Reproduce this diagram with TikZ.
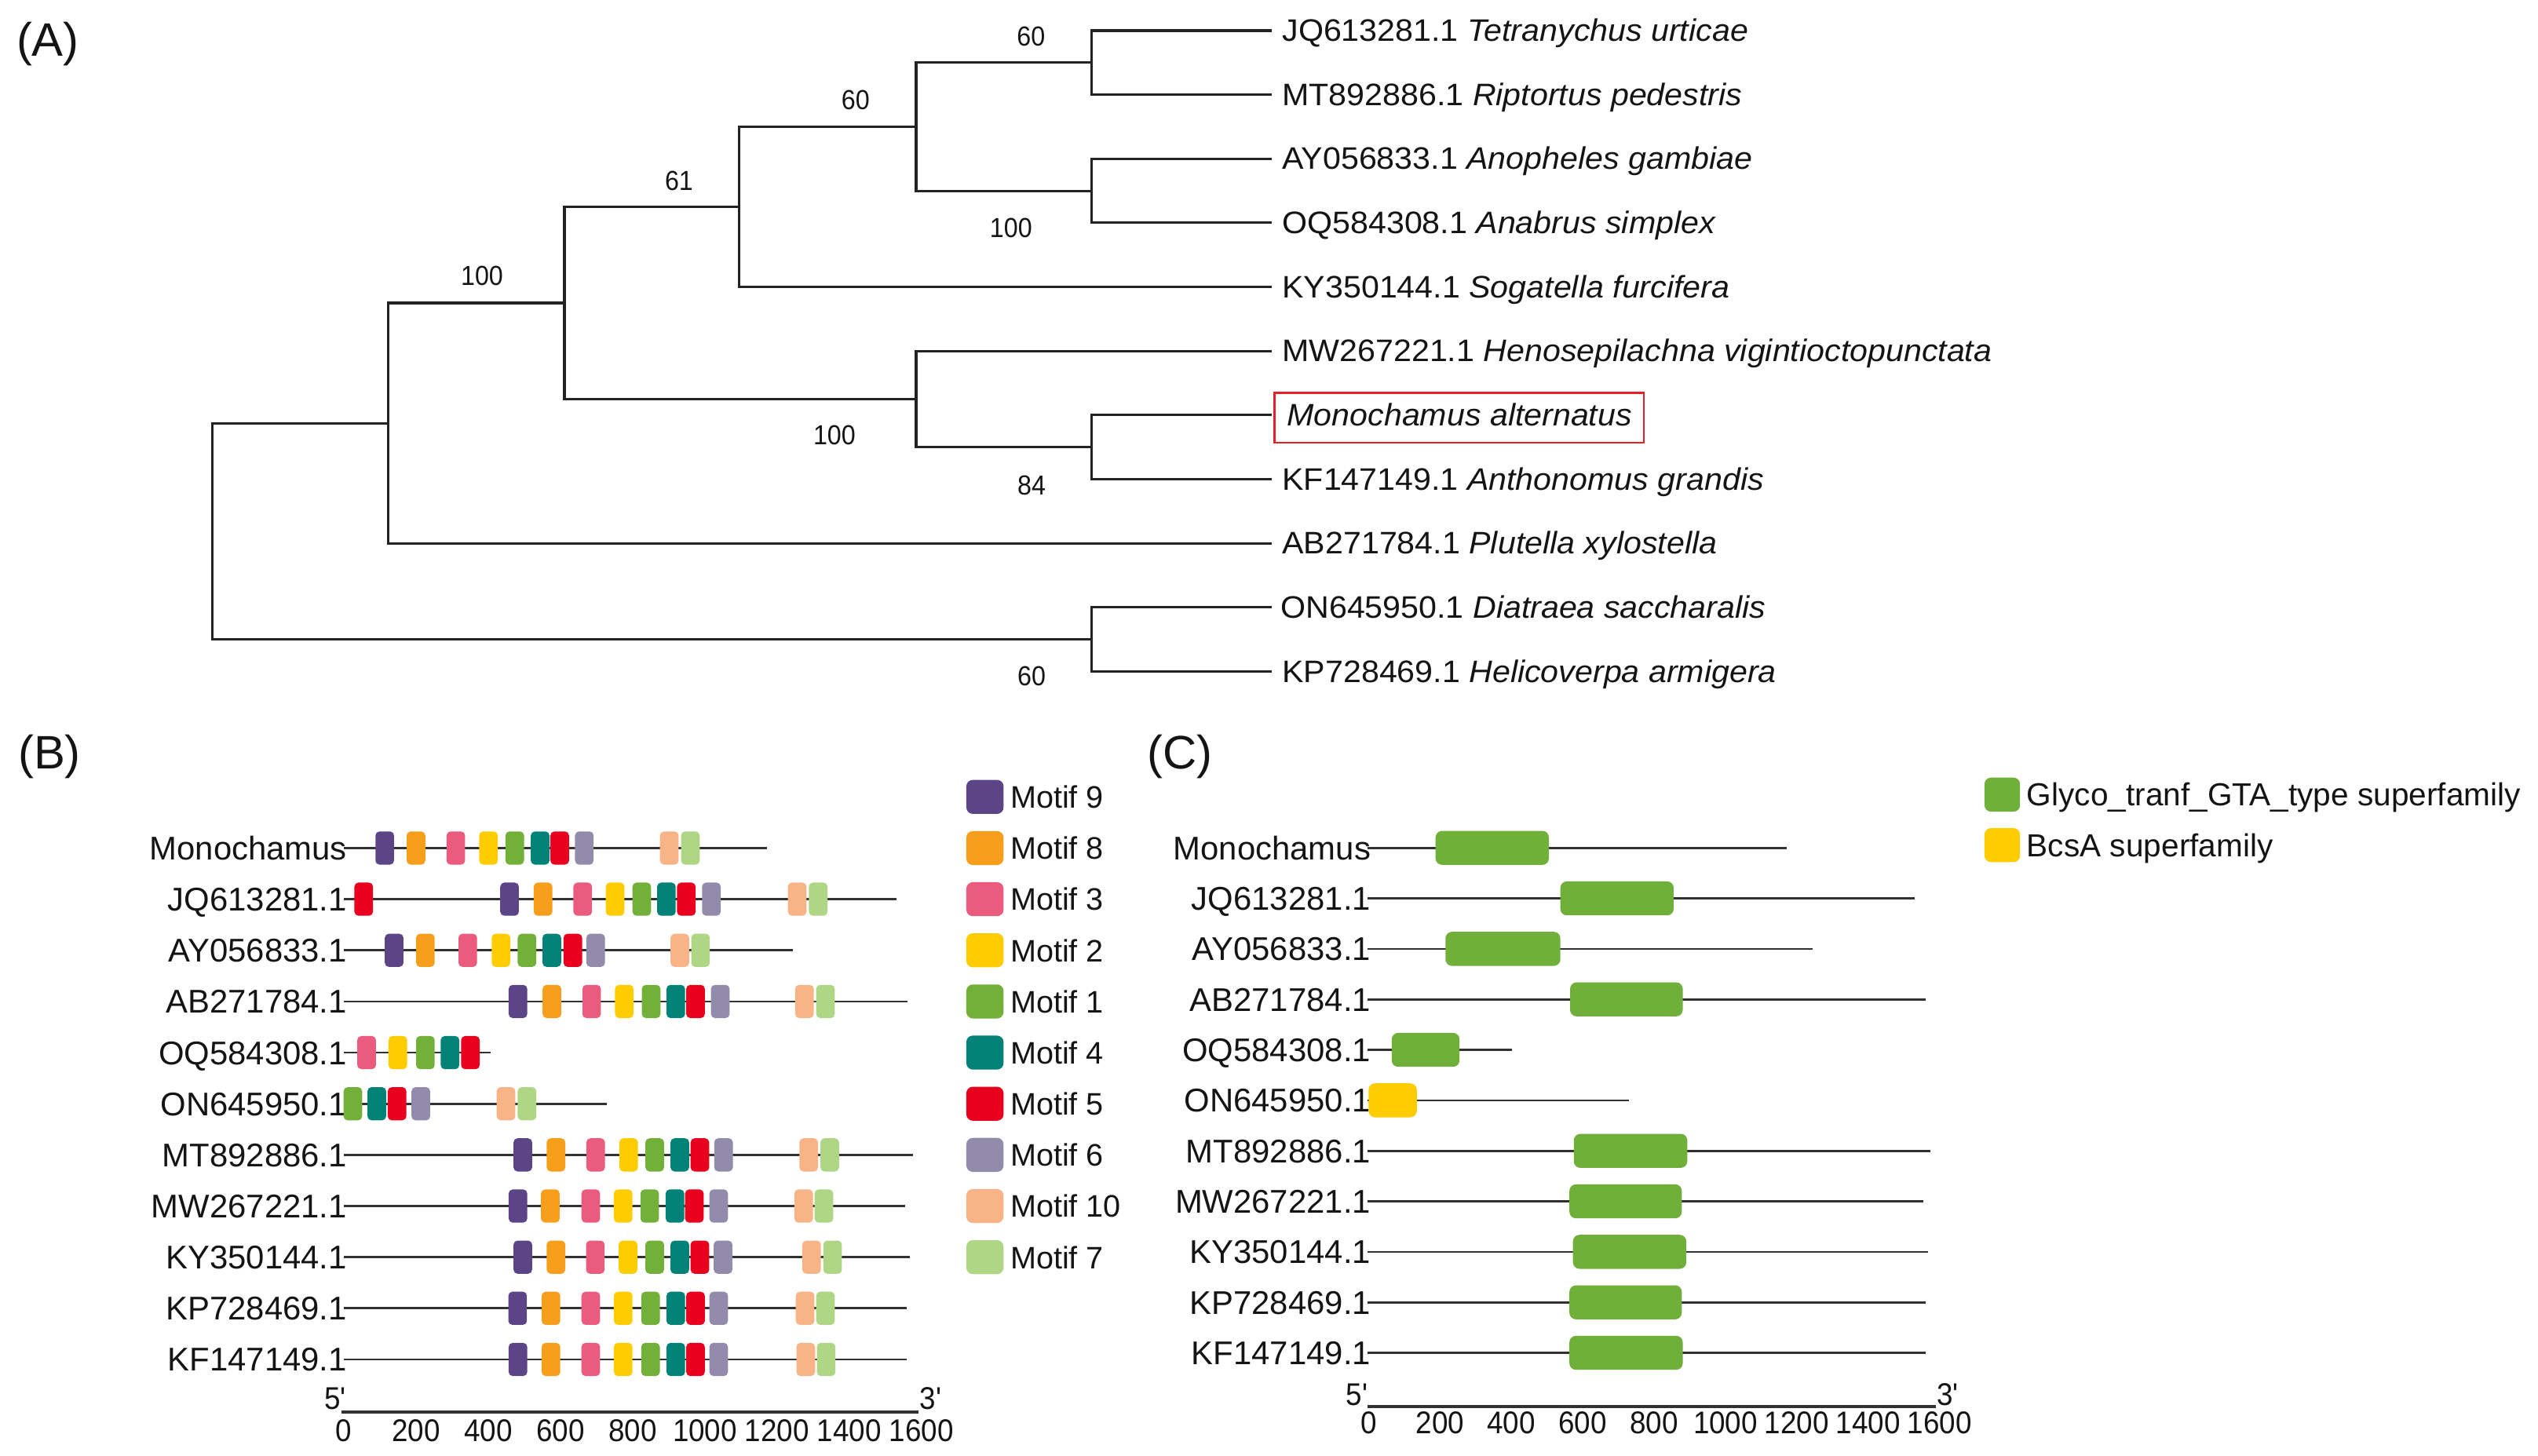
\documentclass[tikz,border=0pt]{standalone}
\usepackage{fontspec}
\setmainfont{Liberation Sans}
\newfontfamily\condfont[FakeStretch=0.92]{Liberation Sans}
\newfontfamily\widefont[FakeStretch=1.04]{Liberation Sans}
\usetikzlibrary{calc}
\definecolor{treecol}{RGB}{35,35,35}
\definecolor{seqcol}{RGB}{50,50,50}
\definecolor{txtcol}{RGB}{20,20,20}
\definecolor{boxred}{RGB}{232,30,40}
\definecolor{m9}{RGB}{91,69,135}
\definecolor{m8}{RGB}{247,158,28}
\definecolor{m3}{RGB}{235,91,126}
\definecolor{m2}{RGB}{255,204,0}
\definecolor{m1}{RGB}{114,176,58}
\definecolor{m4}{RGB}{0,130,120}
\definecolor{m5}{RGB}{232,0,30}
\definecolor{m6}{RGB}{146,139,172}
\definecolor{m10}{RGB}{248,180,134}
\definecolor{m7}{RGB}{174,214,132}
\definecolor{glyco}{RGB}{112,176,58}
\definecolor{bcsa}{RGB}{255,204,0}
\newcommand\motifbox[3]{\fill[#3, rounded corners=2.5pt] ({#1-5.75},{#2-10.25}) rectangle ({#1+5.75},{#2+10.25});}
\newcommand\motifrow[2]{\foreach \c/\x in {#2}{\motifbox{\x}{#1}{m\c}}}
\tikzset{
  treeline/.style={draw=treecol, line width=1.5pt, line cap=rect},
  leaflab/.style={anchor=base west, inner sep=0pt, text=txtcol, font=\widefont\fontsize{19.2}{21}\selectfont},
  bslab/.style={inner sep=0pt, text=txtcol, text height=12.2pt, text depth=0pt, font=\condfont\fontsize{17}{19}\selectfont},
  seqlab/.style={anchor=east, inner sep=0pt, text=txtcol, text height=14.5pt, text depth=0pt, font=\fontsize{20.3}{22}\selectfont},
  seqline/.style={draw=seqcol, line width=1.3pt},
  axisline/.style={draw=seqcol, line width=2pt},
  ticklab/.style={inner sep=0pt, text=txtcol, text height=13.9pt, text depth=0pt, font=\condfont\fontsize{19.4}{21}\selectfont},
  leglab/.style={anchor=west, inner sep=0pt, text=txtcol, text height=13.9pt, text depth=0pt, font=\fontsize{19.2}{21}\selectfont},
  panellab/.style={anchor=base west, inner sep=0pt, text=txtcol, font=\fontsize{29}{31}\selectfont},
}
\begin{document}
\begin{tikzpicture}[x=1pt,y=-1pt]
\useasboundingbox (0,0) rectangle (1568,899.6);
\fill[white] (0,0) rectangle (1568,899.6);

% ---------------- Panel A ----------------
\node[panellab] (pA) at (10,34.8) {(A)};
\foreach \i/\y in {0/18.9,1/58.5,2/98.1,3/137.7,4/177.3,5/216.9,6/256.5,7/296.1,8/335.7,9/375.3,10/414.9}
  \coordinate (L\i) at (785,\y);
\coordinate (na) at (674.6,38.7);
\coordinate (nb) at (674.6,117.9);
\coordinate (nc) at (566,78.3);
\coordinate (nd) at (456.8,127.8);
\coordinate (ne) at (674.6,276.3);
\coordinate (nf) at (566,246.6);
\coordinate (ng) at (348.7,187.2);
\coordinate (nh) at (240,261.45);
\coordinate (ni) at (674.6,395.1);
\coordinate (nr) at (131,328.3);
\foreach \n/\a/\b in {na/L0/L1, nb/L2/L3, nc/na/nb, nd/nc/L4, ne/L6/L7, nf/L5/ne, ng/nd/nf, nh/ng/L8, ni/L9/L10, nr/nh/ni}
  \draw[treeline] (\a) -- (\a -| \n) -- (\b -| \n) -- (\b);

\node[leaflab] (T0) at (792,25.5) {JQ613281.1 \textit{Tetranychus urticae}};
\node[leaflab] (T1) at (792,65.1) {MT892886.1 \textit{Riptortus pedestris}};
\node[leaflab] (T2) at (792,104.7) {AY056833.1 \textit{Anopheles gambiae}};
\node[leaflab] (T3) at (792,144.3) {OQ584308.1 \textit{Anabrus simplex}};
\node[leaflab] (T4) at (792,183.9) {KY350144.1 \textit{Sogatella furcifera}};
\node[leaflab] (T5) at (792,223.5) {MW267221.1 \textit{Henosepilachna vigintioctopunctata}};
\node[leaflab] (T6) at (795,263.1) {\textit{Monochamus alternatus}};
\node[leaflab] (T7) at (792,302.7) {KF147149.1 \textit{Anthonomus grandis}};
\node[leaflab] (T8) at (792,342.3) {AB271784.1 \textit{Plutella xylostella}};
\node[leaflab] (T9) at (791,381.9) {ON645950.1 \textit{Diatraea saccharalis}};
\node[leaflab] (T10) at (792,421.5) {KP728469.1 \textit{Helicoverpa armigera}};
\draw[boxred, line width=1.3pt] ([shift={(-7.5,-20.4)}]T6.base west) rectangle ([shift={(7,10.5)}]T6.base east);

\node[bslab] (s1) at (637,22.3) {60};
\node[bslab] (s2) at (528.6,61.6) {60};
\node[bslab] (s3) at (419.5,111.5) {61};
\node[bslab] (s4) at (297.8,170) {100};
\node[bslab] (s5) at (624.6,140.8) {100};
\node[bslab] (s6) at (515.5,268.7) {100};
\node[bslab] (s7) at (637.3,299.7) {84};
\node[bslab] (s8) at (637.3,417.6) {60};

% ---------------- Panel B ----------------
\node[panellab] (pB) at (11,475) {(B)};
\foreach \i/\y/\nm/\xe in {0/524/Monochamus/474, 1/555.6/JQ613281.1/554, 2/587.2/AY056833.1/490, 3/618.8/AB271784.1/560.5, 4/650.4/OQ584308.1/303, 5/682/ON645950.1/375, 6/713.6/MT892886.1/564, 7/745.2/MW267221.1/559, 8/776.8/KY350144.1/562, 9/808.4/KP728469.1/560, 10/840/KF147149.1/560}{
  \node[seqlab] (B\i) at (214.5,\y) {\nm};
  \coordinate (BE\i) at (\xe,\y);
  \draw[seqline] ([xshift=-2pt]B\i.east) -- (BE\i);
}
\motifrow{524}{9/237.7,8/257,3/281.6,2/301.8,1/318,4/333.7,5/345.8,6/361,10/413.5,7/426.5}
\motifrow{555.6}{5/224.7,9/314.8,8/335.5,3/360,2/380,1/396.5,4/411.7,5/424,6/439.5,10/492.5,7/505.5}
\motifrow{587.2}{9/243.5,8/262.8,3/289,2/309.5,1/325.6,4/340.9,5/353.9,6/368,10/420,7/432.8}
\motifrow{618.8}{9/320,8/341,3/365.5,2/385.7,1/402.3,4/417.5,5/429.7,6/445,10/497,7/510}
\motifrow{650.4}{3/226.5,2/245.8,1/262.8,4/278,5/290.6}
\motifrow{682}{1/218,4/232.8,5/245.3,6/260,10/312.6,7/325.6}
\motifrow{713.6}{9/323,8/343.5,3/368,2/388.4,1/404.5,4/420,5/432.4,6/447,10/499.6,7/512.6}
\motifrow{745.2}{9/320,8/340,3/365,2/385,1/401.4,4/417,5/429,6/444,10/496.5,7/509}
\motifrow{776.8}{9/323,8/343.5,3/367.8,2/388,1/404.5,4/420,5/432.4,6/446.7,10/501.4,7/514.4}
\motifrow{808.4}{9/319.8,8/340.4,3/365,2/385,1/401.9,4/417.5,5/429.7,6/444,10/497.4,7/510}
\motifrow{840}{9/320,8/340.4,3/365,2/385,1/401.9,4/417.5,5/429.7,6/444,10/497.8,7/510.4}

\foreach \c/\t [count=\k from 0] in {9/Motif 9,8/Motif 8,3/Motif 3,2/Motif 2,1/Motif 1,4/Motif 4,5/Motif 5,6/Motif 6,10/Motif 10,7/Motif 7}{
  \fill[m\c, rounded corners=4pt] (597,{492.4+31.6*\k-10.5}) rectangle (620,{492.4+31.6*\k+10.5});
  \node[leglab] (BL\k) at (624,{492.4+31.6*\k}) {\t};
}

\coordinate (BA0) at (211,872.5);
\coordinate (BA1) at (567.5,872.5);
\draw[axisline] (BA0) -- (BA1);
\foreach \v [count=\k from 0] in {0,200,400,600,800,1000,1200,1400,1600}
  \node[ticklab] (BT\k) at ({212.5+44.6*\k},883.5) {\v};
\node[ticklab] (B5) at (207,864) {5'};
\node[ticklab] (B3) at (575,864) {3'};

% ---------------- Panel C ----------------
\node[panellab] (pC) at (708.7,475) {(C)};
\foreach \i/\y/\nm/\xe in {0/523.9/Monochamus/1103.6, 1/555.1/JQ613281.1/1183, 2/586.3/AY056833.1/1120, 3/617.5/AB271784.1/1189.6, 4/648.7/OQ584308.1/934, 5/679.9/ON645950.1/1006.5, 6/711.1/MT892886.1/1192.4, 7/742.3/MW267221.1/1188, 8/773.5/KY350144.1/1191.3, 9/804.7/KP728469.1/1189.6, 10/835.9/KF147149.1/1189.6}{
  \node[seqlab] (C\i) at (847,\y) {\nm};
  \coordinate (CE\i) at (\xe,\y);
  \draw[seqline] ([xshift=-2pt]C\i.east) -- (CE\i);
}
\foreach \y/\xa/\xb/\col in {523.9/886.9/956.9/glyco, 555.1/964/1034/glyco, 586.3/893/964/glyco, 617.5/970/1039.6/glyco, 648.7/859.8/901.7/glyco, 679.9/845.5/875.3/bcsa, 711.1/972.3/1042.4/glyco, 742.3/969.6/1039/glyco, 773.5/971.8/1041.8/glyco, 804.7/969.6/1039/glyco, 835.9/969.6/1039.6/glyco}
  \fill[\col, rounded corners=4pt] (\xa,{\y-10.5}) rectangle (\xb,{\y+10.5});

\fill[glyco, rounded corners=4pt] (1226,480.5) rectangle (1248,501.5);
\node[leglab, font=\fontsize{19.7}{21}\selectfont] (CL0) at (1252,491) {Glyco\_tranf\_GTA\_type superfamily};
\fill[bcsa, rounded corners=4pt] (1226,511.7) rectangle (1248,532.7);
\node[leglab, font=\fontsize{19.7}{21}\selectfont] (CL1) at (1252,522.2) {BcsA superfamily};

\coordinate (CA0) at (845,869.3);
\coordinate (CA1) at (1196,869.3);
\draw[axisline] (CA0) -- (CA1);
\foreach \v [count=\k from 0] in {0,200,400,600,800,1000,1200,1400,1600}
  \node[ticklab] (CT\k) at ({845.5+44.1*\k},879) {\v};
\node[ticklab] (C5) at (838.3,861.3) {5'};
\node[ticklab] (C3) at (1203.4,861.3) {3'};
\end{tikzpicture}
\end{document}
